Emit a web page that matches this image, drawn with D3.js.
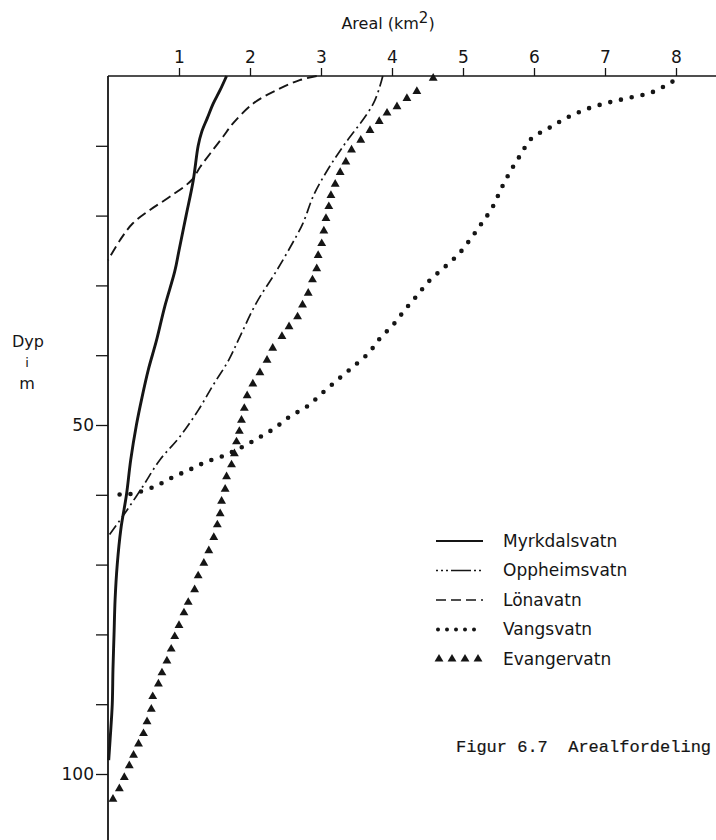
<!DOCTYPE html>
<html><head><meta charset="utf-8">
<script src="https://cdn.jsdelivr.net/npm/d3@7"></script>
<style>body{margin:0;background:#fff}</style>
</head><body>
<svg id="c" width="716" height="840"></svg>
<script>
// ---- data (depth m, area km2) ----
const xTicks = [1,2,3,4,5,6,7,8];
const yTicks = [10,20,30,40,50,60,70,80,90,100];
const yLabels = [50,100];
const lakes = ["Myrkdalsvatn","Oppheimsvatn","Lönavatn","Vangsvatn","Evangervatn"];

const myrkdalsvatn = [[0,1.67],[2,1.58],[4,1.48],[6,1.40],[8,1.32],[10,1.27],[15,1.20],[20,1.10],[25,1.00],[28,0.94],[33,0.80],[38,0.68],[42,0.57],[46,0.48],[50,0.40],[55,0.32],[60,0.26],[65,0.18],[70,0.13],[75,0.10],[80,0.085],[85,0.07],[90,0.06],[95,0.03],[98,0.01]];
const oppheimsvatn = [[0,3.87],[3.9,3.74],[10.1,3.31],[13.5,3.09],[17,2.90],[21,2.75],[23,2.65],[27.8,2.38],[32.5,2.09],[37.3,1.86],[40.7,1.70],[44.3,1.48],[47.9,1.27],[51.7,1.01],[55,0.73],[58.8,0.49],[62.6,0.24],[66,0]];
const lonavatn = [[0,2.94],[0.6,2.70],[2.0,2.38],[3.9,2.05],[6.8,1.76],[8.7,1.62],[11.1,1.44],[13.0,1.30],[14.9,1.18],[17.3,0.87],[19.2,0.59],[21.1,0.35],[23.5,0.17],[26.4,0]];
const vangsvatn = [[0.8,7.95],[2.3,7.67],[3.1,7.35],[3.8,7.05],[4.7,6.75],[6.0,6.46],[7.4,6.22],[9.0,5.96],[11.3,5.81],[13.6,5.67],[16.1,5.54],[18.9,5.41],[21.3,5.25],[23.3,5.11],[25.5,4.94],[27.3,4.75],[29.3,4.53],[31.5,4.35],[33.4,4.19],[35.6,4.02],[37.6,3.83],[39.7,3.67],[41.5,3.47],[43.3,3.26],[45.4,3.02],[47.3,2.81],[48.8,2.56],[50.5,2.34],[51.9,2.11],[53.2,1.88],[54.4,1.63],[55.3,1.38],[56.4,1.15],[57.5,0.91],[58.7,0.68],[59.6,0.44],[59.9,0.31],[59.95,0.18],[60.0,0.02]];
const evangervatn = [[0.3,4.58],[2.2,4.35],[3.2,4.21],[4.4,4.07],[5.3,3.93],[6.5,3.82],[7.8,3.69],[9.2,3.56],[10.6,3.43],[12.3,3.35],[13.8,3.27],[15.5,3.20],[17.1,3.14],[18.7,3.11],[20.4,3.07],[22.2,3.04],[24.0,3.01],[25.7,2.96],[27.6,2.94],[29.2,2.88],[31.1,2.82],[32.8,2.74],[34.5,2.67],[35.9,2.55],[37.3,2.45],[39.0,2.32],[40.7,2.24],[42.5,2.14],[44.1,2.04],[45.8,1.96],[47.6,1.92],[49.3,1.88],[50.9,1.85],[52.4,1.81],[54.1,1.78],[55.7,1.74],[57.4,1.67],[59.2,1.65],[60.9,1.60],[62.7,1.58],[64.3,1.54],[66.1,1.49],[68.0,1.42],[69.8,1.35],[71.6,1.27],[73.6,1.22],[75.4,1.13],[76.9,1.07],[78.7,1.00],[80.3,0.94],[82.1,0.89],[83.8,0.83],[85.5,0.76],[87.1,0.71],[88.9,0.63],[90.7,0.61],[92.5,0.55],[94.2,0.50],[95.7,0.43],[97.3,0.36],[98.8,0.30],[100.5,0.23],[102.1,0.16],[103.6,0.07]];

const W = 716, H = 840;
const ink = "#151515";
const font = "'DejaVu Sans', sans-serif";
const svg = d3.select("#c");

const x = d3.scaleLinear().domain([0,8]).range([108,676]);
const y = d3.scaleLinear().domain([0,100]).range([76,774]);

// axis frame lines
svg.append("line").attr("x1",x(0)).attr("x2",W).attr("y1",y(0)).attr("y2",y(0))
  .attr("stroke",ink).attr("stroke-width",1.6);
svg.append("line").attr("x1",x(0)).attr("x2",x(0)).attr("y1",y(0)).attr("y2",H)
  .attr("stroke",ink).attr("stroke-width",1.8);

const gx = svg.append("g").attr("transform",`translate(0,${y(0)})`)
  .call(d3.axisTop(x).tickValues(xTicks).tickSize(8).tickPadding(5).tickFormat(d3.format("d")));
gx.select(".domain").remove();
gx.selectAll("line").attr("stroke",ink).attr("stroke-width",1.3);
gx.selectAll("text").attr("font-family",font).attr("font-size",17).attr("fill",ink);

const gy = svg.append("g").attr("transform",`translate(${x(0)},0)`)
  .call(d3.axisLeft(y).tickValues(yTicks).tickSize(12).tickPadding(2)
    .tickFormat(d => yLabels.includes(d) ? d : ""));
gy.select(".domain").remove();
gy.selectAll("line").attr("stroke",ink).attr("stroke-width",1.3);
gy.selectAll("text").attr("font-family",font).attr("font-size",17).attr("fill",ink);

// axis titles
const t = svg.append("text").attr("x",388).attr("y",29).attr("text-anchor","middle")
  .attr("font-family",font).attr("font-size",16).attr("fill",ink);
t.append("tspan").text("Areal (km");
t.append("tspan").attr("dy",-6).attr("font-size",15).text("2");
t.append("tspan").attr("dy",6).text(")");

const dyp = svg.append("g").attr("font-family",font).attr("fill",ink).attr("text-anchor","middle");
dyp.append("text").attr("x",28).attr("y",347).attr("font-size",16).text("Dyp");
dyp.append("text").attr("x",27).attr("y",367).attr("font-size",13).text("i");
dyp.append("text").attr("x",27).attr("y",389).attr("font-size",16).text("m");

// lines
const line = d3.line().x(d => x(d[1])).y(d => y(d[0])).curve(d3.curveCatmullRom.alpha(0.5));
const styles = {
  Myrkdalsvatn: {w:2.9, dash:null},
  Oppheimsvatn: {w:1.7, dash:"11,4,2,4"},
  "Lönavatn": {w:1.9, dash:"10,5"},
  Vangsvatn: {w:4.6, dash:"0,11", cap:"round"}
};
const series = {Myrkdalsvatn: myrkdalsvatn, Oppheimsvatn: oppheimsvatn, "Lönavatn": lonavatn, Vangsvatn: vangsvatn};
Object.keys(series).forEach(k => {
  const s = styles[k];
  svg.append("path").datum(series[k]).attr("d",line)
    .attr("fill","none").attr("stroke",ink).attr("stroke-width",s.w)
    .attr("stroke-dasharray",s.dash).attr("stroke-linecap",s.cap || "butt")
    .attr("stroke-linejoin","round");
});
const tri = d3.symbol().type(d3.symbolTriangle).size(34);
svg.append("g").selectAll("path").data(evangervatn).join("path")
  .attr("d",tri).attr("transform",d => `translate(${x(d[1])},${y(d[0])})`).attr("fill",ink);

// legend
const LX = 436, TX = 503;
const lg = svg.append("g");
const ly = d3.scalePoint().domain(lakes).range([541,659]);
lakes.forEach(name => {
  const yy = ly(name);
  if (name === "Evangervatn") {
    lg.append("g").selectAll("path").data(d3.range(4)).join("path")
      .attr("d",tri).attr("transform",i => `translate(${LX+3+i*13},${yy})`).attr("fill",ink);
  } else {
    const s = styles[name];
    const dash = name === "Vangsvatn" ? "0,9" : (name === "Oppheimsvatn" ? "2,3,2,3,2,3,20,3" : s.dash);
    lg.append("line").attr("x1", name==="Vangsvatn"?LX+2:LX).attr("x2",LX+47).attr("y1",yy).attr("y2",yy)
      .attr("stroke",ink).attr("stroke-width", name==="Vangsvatn"?4:(name==="Myrkdalsvatn"?2.2:1.6))
      .attr("stroke-dasharray",dash).attr("stroke-linecap",s.cap||"butt");
  }
  lg.append("text").attr("x",TX).attr("y",yy).attr("dy","0.35em")
    .attr("font-family",font).attr("font-size",17).attr("fill",ink).text(name);
});

// caption
svg.append("text").attr("x",456).attr("y",752).attr("font-family","'Liberation Mono', monospace")
  .attr("font-size",17).attr("fill",ink).attr("stroke",ink).attr("stroke-width",0.2)
  .style("white-space","pre")
  .text("Figur 6.7  Arealfordeling");
</script>
</body></html>
